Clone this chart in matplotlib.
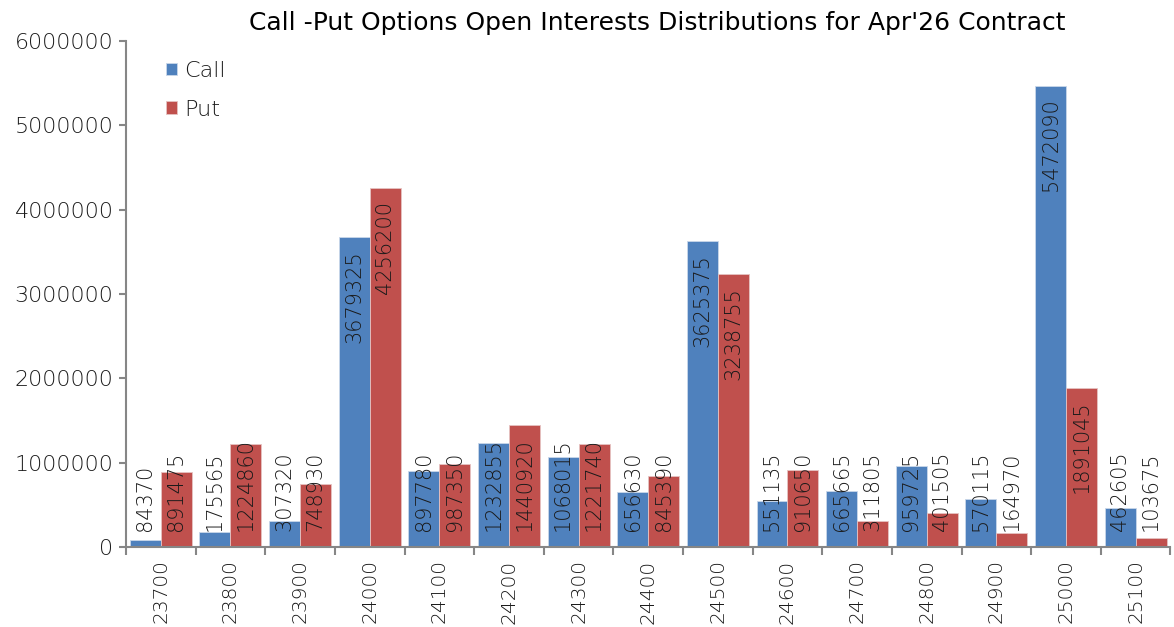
import matplotlib
matplotlib.use("Agg")
from matplotlib import pyplot as plt
import numpy as np

strikes = ["23700", "23800", "23900", "24000", "24100", "24200", "24300", "24400",
           "24500", "24600", "24700", "24800", "24900", "25000", "25100"]
call_oi = [84370, 175565, 307320, 3679325, 897780, 1232855, 1068015, 656630,
           3625375, 551135, 665665, 959725, 570115, 5472090, 462605]
put_oi = [891475, 1224860, 748930, 4256200, 987350, 1440920, 1221740, 845390,
          3238755, 910650, 311805, 401505, 164970, 1891045, 103675]

plt.rcParams['font.family'] = ['DejaVu Sans']
plt.rcParams['font.weight'] = 'light'
txt_col = '#1a1a1a'
axis_col = '#868686'

fig = plt.figure(figsize=(11.74, 6.27), dpi=100)
ax = fig.add_axes([0.1073, 0.1276, 0.8897, 0.807])

n = len(strikes)
x = np.arange(n) + 0.5
w = 0.445
b1 = ax.bar(x - w/2, call_oi, w, color='#4F81BD', edgecolor='#c9d7ea', lw=0.6, label='Call')
b2 = ax.bar(x + w/2, put_oi, w, color='#C0504D', edgecolor='#e6c3c2', lw=0.6, label='Put')

ax.set_xlim(0, n)
ax.set_ylim(0, 6000000)
ax.set_yticks(np.arange(0, 6000001, 1000000))
ax.set_yticklabels([str(v) for v in range(0, 6000001, 1000000)])
ax.set_xticks(np.arange(0, n + 1))
ax.set_xticklabels([])
ax.set_xticks(x, minor=True)
ax.set_xticklabels(strikes, minor=True, rotation=90, fontsize=14.5, color=txt_col)
ax.tick_params(axis='x', which='minor', length=0, pad=9)
ax.tick_params(axis='x', which='major', length=6, color=axis_col, width=1.5)
ax.tick_params(axis='y', length=5, color=axis_col, width=1.5, labelsize=16,
               labelcolor=txt_col, pad=4)
for s in ['top', 'right']:
    ax.spines[s].set_visible(False)
for s in ['left', 'bottom']:
    ax.spines[s].set_color(axis_col)
    ax.spines[s].set_linewidth(1.5)

labels = []
for bars, vals in [(b1, call_oi), (b2, put_oi)]:
    for r, v in zip(bars, vals):
        t = ax.annotate(str(v), (r.get_x() + r.get_width()/2, v), xytext=(0, -9.5),
                        textcoords='offset points', rotation=90, ha='center', va='top',
                        fontsize=15, color=txt_col)
        labels.append((t, r))

fig.canvas.draw()
zero_px = ax.transData.transform((0, 0))[1]
for t, r in labels:
    ext = t.get_window_extent()
    if ext.y0 < zero_px + 16:
        t.xy = (r.get_x() + r.get_width()/2, 0)
        t.xyann = (0, 11.5)
        t.set_va('bottom')

ax.legend(loc='upper left', bbox_to_anchor=(0.124, 0.935), bbox_transform=fig.transFigure,
          frameon=False, fontsize=16, handlelength=0.5, handleheight=0.5,
          handletextpad=0.35, labelspacing=0.85, labelcolor=txt_col)

fig.text(0.56, 0.963, "Call -Put Options Open Interests Distributions for Apr'26 Contract",
         ha='center', va='center', fontsize=18, fontweight='normal', color='black')

fig.savefig('out.png', dpi=100)
